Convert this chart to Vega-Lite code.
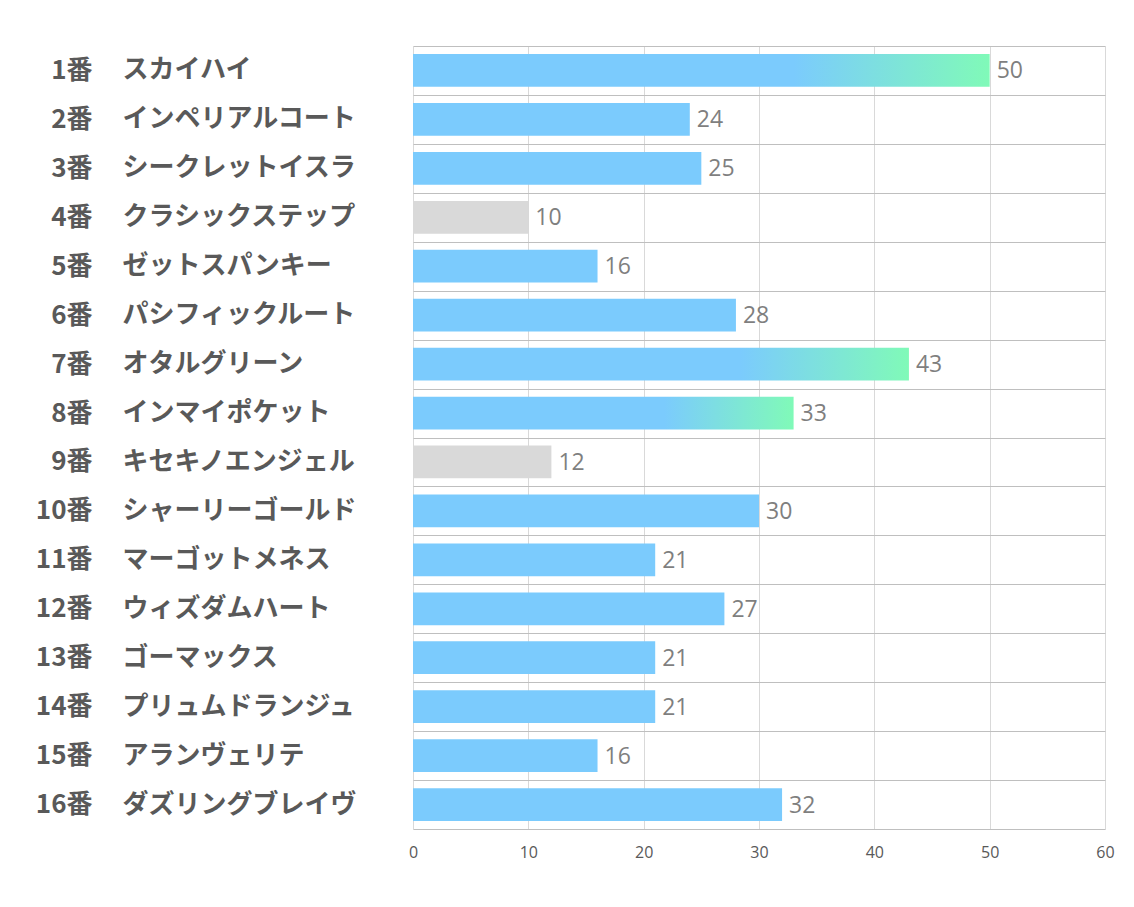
{
  "$schema": "https://vega.github.io/schema/vega-lite/v6.json",
  "width": 692,
  "height": 783,
  "autosize": "none",
  "padding": {"left": 413, "top": 46, "right": 29, "bottom": 78},
  "background": "white",
  "config": {"view": {"stroke": null}},
  "data": {
    "values": [
      {"label": "1番　スカイハイ", "value": 50, "group": "top"},
      {"label": "2番　インペリアルコート", "value": 24, "group": "normal"},
      {"label": "3番　シークレットイスラ", "value": 25, "group": "normal"},
      {"label": "4番　クラシックステップ", "value": 10, "group": "low"},
      {"label": "5番　ゼットスパンキー", "value": 16, "group": "normal"},
      {"label": "6番　パシフィックルート", "value": 28, "group": "normal"},
      {"label": "7番　オタルグリーン", "value": 43, "group": "top"},
      {"label": "8番　インマイポケット", "value": 33, "group": "top"},
      {"label": "9番　キセキノエンジェル", "value": 12, "group": "low"},
      {"label": "10番　シャーリーゴールド", "value": 30, "group": "normal"},
      {"label": "11番　マーゴットメネス", "value": 21, "group": "normal"},
      {"label": "12番　ウィズダムハート", "value": 27, "group": "normal"},
      {"label": "13番　ゴーマックス", "value": 21, "group": "normal"},
      {"label": "14番　プリュムドランジュ", "value": 21, "group": "normal"},
      {"label": "15番　アランヴェリテ", "value": 16, "group": "normal"},
      {"label": "16番　ダズリングブレイヴ", "value": 32, "group": "normal"}
    ]
  },
  "encoding": {
    "x": {
      "field": "value",
      "type": "quantitative",
      "scale": {"domain": [0, 60], "nice": false, "zero": true},
      "axis": {
        "values": [0, 10, 20, 30, 40, 50, 60],
        "title": null,
        "domain": false,
        "ticks": false,
        "grid": true,
        "gridColor": "#D9D9D9",
        "gridWidth": 1,
        "labelFlush": false,
        "labelOverlap": false,
        "labelFont": "Open Sans",
        "labelFontSize": 16,
        "labelColor": "#595959",
        "labelPadding": 15
      }
    },
    "y": {
      "field": "label",
      "type": "nominal",
      "sort": null,
      "scale": {"paddingInner": 0, "paddingOuter": 0}
    }
  },
  "layer": [
    {
      "mark": {"type": "bar", "height": {"band": 0.67}},
      "encoding": {
        "y": {
          "field": "label",
          "type": "nominal",
          "sort": null,
          "axis": {
            "orient": "left",
            "title": null,
            "domain": false,
            "ticks": false,
            "grid": true,
            "tickBand": "extent",
            "gridColor": "#BFBFBF",
            "gridWidth": 1,
            "labelExpr": "split(datum.label, '　')[0]",
            "labelAlign": "right",
            "labelPadding": 321,
            "labelFont": "Noto Sans CJK JP",
            "labelFontWeight": "bold",
            "labelFontSize": 26,
            "labelColor": "#595959",
            "labelLimit": 0
          }
        },
        "fill": {
          "condition": [
            {
              "test": "datum.group === 'top'",
              "value": {
                "gradient": "linear",
                "x1": 0, "y1": 0, "x2": 1, "y2": 0,
                "stops": [
                  {"offset": 0, "color": "#7BCBFD"},
                  {"offset": 0.66, "color": "#7BCBFD"},
                  {"offset": 1, "color": "#80FAB8"}
                ]
              }
            },
            {"test": "datum.group === 'low'", "value": "#D9D9D9"}
          ],
          "value": "#7BCBFD"
        }
      }
    },
    {
      "mark": {"type": "text", "align": "left", "baseline": "middle", "dx": 7, "dy": 1, "font": "Open Sans", "fontSize": 23, "color": "#7F7F7F"},
      "encoding": {
        "text": {"field": "value", "type": "quantitative"},
        "y": {
          "field": "label",
          "type": "nominal",
          "sort": null,
          "axis": {
            "orient": "left",
            "title": null,
            "domain": false,
            "ticks": false,
            "grid": false,
            "labelExpr": "split(datum.label, '　')[1]",
            "labelAlign": "left",
            "labelPadding": 291,
            "labelFont": "Noto Sans CJK JP",
            "labelFontWeight": "bold",
            "labelFontSize": 26,
            "labelColor": "#595959",
            "labelLimit": 0
          }
        }
      }
    }
  ],
  "resolve": {"axis": {"y": "independent"}}
}
